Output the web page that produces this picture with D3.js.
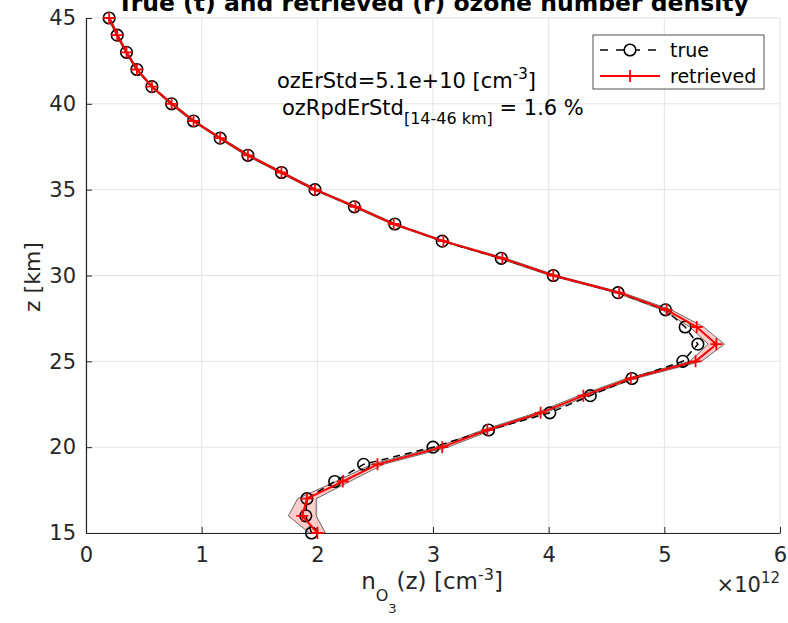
<!DOCTYPE html>
<html>
<head>
<meta charset="utf-8">
<script src="https://cdn.jsdelivr.net/npm/d3@7"></script>
<style>
  html, body { margin: 0; padding: 0; background: #fff; }
  svg { display: block; font-family: "DejaVu Sans", sans-serif; }
</style>
</head>
<body>
<svg id="chart" width="788" height="623"></svg>
<script>
// Altitude grid [km]
const altitudes = [15,16,17,18,19,20,21,22,23,24,25,26,27,28,29,30,31,32,33,34,35,36,37,38,39,40,41,42,43,44,45];
// True ozone number density [1e12 cm^-3]
const trueDensity = [1.95,1.90,1.91,2.15,2.40,3.00,3.48,4.01,4.36,4.72,5.16,5.29,5.18,5.01,4.60,4.04,3.59,3.08,2.67,2.32,1.98,1.69,1.40,1.16,0.93,0.74,0.57,0.44,0.35,0.27,0.20];
// Retrieved ozone number density [1e12 cm^-3]
const retrievedDensity = [2.00,1.87,1.91,2.22,2.52,3.08,3.47,3.93,4.30,4.71,5.27,5.45,5.28,5.02,4.61,4.04,3.60,3.09,2.66,2.33,1.98,1.69,1.40,1.16,0.93,0.74,0.57,0.44,0.35,0.27,0.20];
// Retrieval error standard deviation [1e12 cm^-3]
const retrievalError = [0.07,0.12,0.08,0.06,0.05,0.05,0.04,0.04,0.04,0.04,0.05,0.07,0.06,0.04,0.03,0.03,0.03,0.02,0.02,0.02,0.02,0.02,0.02,0.015,0.015,0.015,0.01,0.01,0.01,0.01,0.01];
// Axis ticks
const xTicks = [0,1,2,3,4,5,6];
const yTicks = [15,20,25,30,35,40,45];

const svg = d3.select("#chart");
const axisColor = "#262626";

const x = d3.scaleLinear().domain([0, 6]).range([86, 780]);
const y = d3.scaleLinear().domain([15, 45]).range([533, 18]);

const rows = altitudes.map((z, i) => ({
  z, t: trueDensity[i], r: retrievedDensity[i], e: retrievalError[i]
}));

// Grid
const grid = svg.append("g").attr("stroke", "#e3e3e3").attr("stroke-width", 1);
grid.selectAll("line.gx").data(xTicks).join("line")
  .attr("x1", d => x(d)).attr("x2", d => x(d))
  .attr("y1", y(15)).attr("y2", y(45));
grid.selectAll("line.gy").data(yTicks).join("line")
  .attr("x1", x(0)).attr("x2", x(6))
  .attr("y1", d => y(d)).attr("y2", d => y(d));

// Axes (left and bottom, ticks inside)
const xAxis = d3.axisBottom(x).tickValues(xTicks).tickFormat(d3.format("d")).tickSizeInner(-6).tickSizeOuter(0).tickPadding(14);
const yAxis = d3.axisLeft(y).tickValues(yTicks).tickFormat(d3.format("d")).tickSizeInner(-6).tickSizeOuter(0).tickPadding(10);

const gx = svg.append("g").attr("transform", `translate(0,${y(15)})`).call(xAxis);
const gy = svg.append("g").attr("transform", `translate(${x(0)},0)`).call(yAxis);
[gx, gy].forEach(g => {
  g.select(".domain").attr("stroke", axisColor).attr("stroke-width", 1.2);
  g.selectAll(".tick line").attr("stroke", axisColor).attr("stroke-width", 1);
  g.selectAll(".tick text").attr("fill", axisColor).style("font-size", "21px").style("font-family", "DejaVu Sans");
});

// Uncertainty band around retrieved profile
const bandPts = rows.map(d => [x(d.r + d.e), y(d.z)])
  .concat(rows.slice().reverse().map(d => [x(d.r - d.e), y(d.z)]));
svg.append("path")
  .attr("d", d3.line()(bandPts) + "Z")
  .attr("fill", "rgba(255,0,0,0.2)")
  .attr("stroke", "#444")
  .attr("stroke-width", 0.8);

// True profile: dashed black line with circles
const lineT = d3.line().x(d => x(d.t)).y(d => y(d.z));
svg.append("path").datum(rows).attr("d", lineT)
  .attr("fill", "none").attr("stroke", "#000").attr("stroke-width", 1.5)
  .attr("stroke-dasharray", "7,5");
svg.append("g").selectAll("circle").data(rows).join("circle")
  .attr("cx", d => x(d.t)).attr("cy", d => y(d.z)).attr("r", 5.8)
  .attr("fill", "none").attr("stroke", "#000").attr("stroke-width", 1.6);

// Retrieved profile: red line with plus markers
const lineR = d3.line().x(d => x(d.r)).y(d => y(d.z));
svg.append("path").datum(rows).attr("d", lineR)
  .attr("fill", "none").attr("stroke", "#ff0000").attr("stroke-width", 2);
const plus = svg.append("g").attr("stroke", "#ff0000").attr("stroke-width", 1.8);
plus.selectAll("path").data(rows).join("path")
  .attr("d", d => `M${x(d.r) - 6},${y(d.z)}H${x(d.r) + 6}M${x(d.r)},${y(d.z) - 6}V${y(d.z) + 6}`);

// Title
svg.append("text")
  .attr("x", 433).attr("y", 11)
  .attr("text-anchor", "middle")
  .attr("font-weight", "bold").attr("font-size", 23.5)
  .attr("fill", "#000")
  .text("True (t) and retrieved (r) ozone number density");

// Axis labels
svg.append("text")
  .attr("transform", "translate(40,277) rotate(-90)")
  .attr("text-anchor", "middle").attr("font-size", 22).attr("fill", axisColor)
  .text("z [km]");

const xl = svg.append("text")
  .attr("x", 432).attr("y", 589)
  .attr("text-anchor", "middle").attr("font-size", 23).attr("fill", axisColor);
xl.append("tspan").text("n");
xl.append("tspan").attr("dy", 12).attr("font-size", 16).text("O");
xl.append("tspan").attr("dy", 12).attr("font-size", 13).text("3");
xl.append("tspan").attr("dy", -24).text("(z) [cm");
xl.append("tspan").attr("dy", -9).attr("font-size", 16).text("-3");
xl.append("tspan").attr("dy", 9).text("]");

const ex = svg.append("text")
  .attr("x", 780).attr("y", 592)
  .attr("text-anchor", "end").attr("font-size", 21).attr("fill", axisColor);
ex.append("tspan").text("\u00d710");
ex.append("tspan").attr("dy", -9).attr("font-size", 15).text("12");

// Statistics annotation
const a1 = svg.append("text").attr("x", 277).attr("y", 88).attr("font-size", 21).attr("fill", "#000");
a1.append("tspan").text("ozErStd=5.1e+10 [cm");
a1.append("tspan").attr("dy", -9).attr("font-size", 15).text("-3");
a1.append("tspan").attr("dy", 9).text("]");

const a2 = svg.append("text").attr("x", 282).attr("y", 115).attr("font-size", 21).attr("fill", "#000");
a2.append("tspan").text("ozRpdErStd");
a2.append("tspan").attr("dy", 9).attr("font-size", 16).text("[14-46 km]");
a2.append("tspan").attr("dy", -9).text(" = 1.6 %");

// Legend
const lg = svg.append("g");
lg.append("rect").attr("x", 593).attr("y", 35).attr("width", 171).attr("height", 54)
  .attr("fill", "#fff").attr("stroke", axisColor).attr("stroke-width", 0.8);
lg.append("line").attr("x1", 600).attr("x2", 660).attr("y1", 50).attr("y2", 50)
  .attr("stroke", "#000").attr("stroke-width", 1.5).attr("stroke-dasharray", "8,8");
lg.append("circle").attr("cx", 630).attr("cy", 50).attr("r", 5.8)
  .attr("fill", "#fff").attr("stroke", "#000").attr("stroke-width", 1.6);
lg.append("line").attr("x1", 600).attr("x2", 660).attr("y1", 76).attr("y2", 76)
  .attr("stroke", "#ff0000").attr("stroke-width", 2);
lg.append("path").attr("d", "M624,76H636M630,70V82").attr("stroke", "#ff0000").attr("stroke-width", 1.8);
lg.append("text").attr("x", 670).attr("y", 57).attr("font-size", 19).attr("fill", "#000").text("true");
lg.append("text").attr("x", 670).attr("y", 83).attr("font-size", 19).attr("fill", "#000").text("retrieved");
</script>
</body>
</html>
